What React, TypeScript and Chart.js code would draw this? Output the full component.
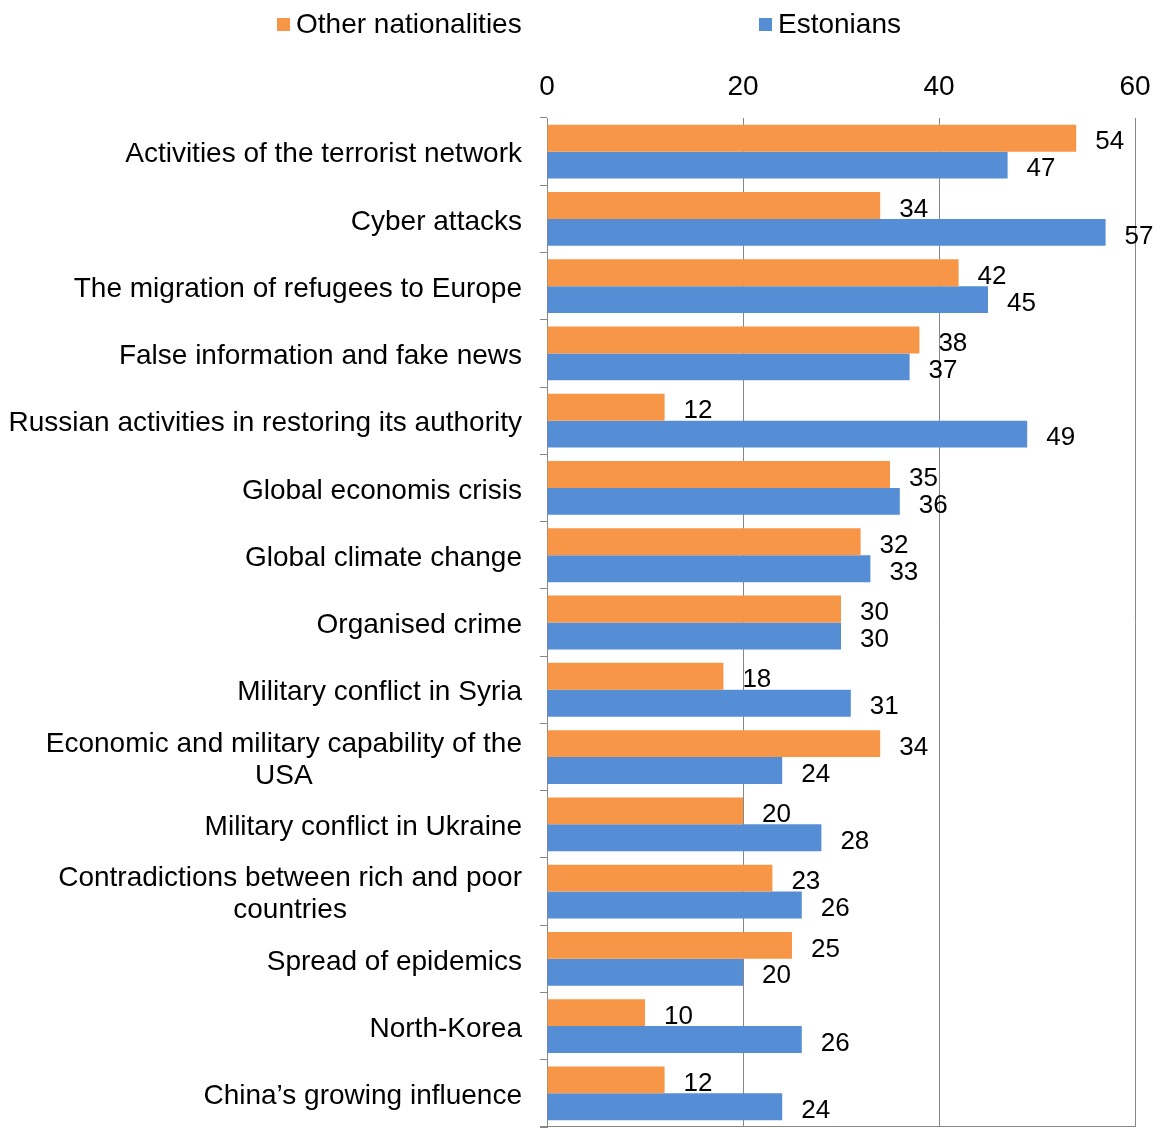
import React, { useEffect, useRef } from 'react';
import { Chart, registerables } from 'chart.js';

Chart.register(...registerables);

const categories: string[][] = [
  ['Activities of the terrorist network'],
  ['Cyber attacks'],
  ['The migration of refugees to Europe'],
  ['False information and fake news'],
  ['Russian activities in restoring its authority'],
  ['Global economis crisis'],
  ['Global climate change'],
  ['Organised crime'],
  ['Military conflict in Syria'],
  ['Economic and military capability of the', 'USA'],
  ['Military conflict in Ukraine'],
  ['Contradictions between rich and poor', 'countries'],
  ['Spread of epidemics'],
  ['North-Korea'],
  ['China\u2019s growing influence'],
];

const otherNationalities = [54, 34, 42, 38, 12, 35, 32, 30, 18, 34, 20, 23, 25, 10, 12];
const estonians = [47, 57, 45, 37, 49, 36, 33, 30, 31, 24, 28, 26, 20, 26, 24];

const seriesNames = ['Other nationalities', 'Estonians'];
const xMin = 0;
const xMax = 60;
const xStep = 20;

const ORANGE = '#F79646';
const BLUE = '#558ED5';
const GRID = '#878787';
const FONT = "'Liberation Sans', Arial, sans-serif";
const FS = 28;
const W = 1161;
const H = 1128;

export default function App() {
  const ref = useRef<HTMLCanvasElement | null>(null);

  useEffect(() => {
    document.body.style.margin = '0';
    const canvas = ref.current;
    if (!canvas) return;

    const categoryLabelPlugin = {
      id: 'categoryLabels',
      afterDraw(chart: any) {
        const ctx = chart.ctx;
        const yScale = chart.scales.y;
        const rightX = chart.chartArea.left - 25;
        const lineH = 32;
        ctx.save();
        ctx.font = `${FS}px ${FONT}`;
        ctx.fillStyle = '#000';
        ctx.textBaseline = 'middle';
        ctx.textAlign = 'center';
        categories.forEach((lines, i) => {
          const cy = yScale.getPixelForValue(i) + 3;
          const widths = lines.map((l) => ctx.measureText(l).width);
          const blockW = Math.max(...widths);
          const cx = rightX - blockW / 2;
          lines.forEach((l, j) => {
            const y = cy + (j - (lines.length - 1) / 2) * lineH;
            ctx.fillText(l, cx, y);
          });
        });
        ctx.restore();
      },
    };

    const bottomLinePlugin = {
      id: 'bottomLine',
      afterDraw(chart: any) {
        const ctx = chart.ctx;
        const { left, right, bottom } = chart.chartArea;
        ctx.save();
        ctx.strokeStyle = GRID;
        ctx.lineWidth = 1;
        ctx.beginPath();
        ctx.moveTo(left - 7, Math.round(bottom) - 0.5);
        ctx.lineTo(right, Math.round(bottom) - 0.5);
        ctx.stroke();
        ctx.restore();
      },
    };

    const dataLabelPlugin = {
      id: 'dataLabels',
      afterDatasetsDraw(chart: any) {
        const ctx = chart.ctx;
        ctx.save();
        ctx.font = `${FS - 2}px ${FONT}`;
        ctx.fillStyle = '#000';
        ctx.textBaseline = 'middle';
        ctx.textAlign = 'left';
        chart.data.datasets.forEach((ds: any, di: number) => {
          const meta = chart.getDatasetMeta(di);
          meta.data.forEach((el: any, i: number) => {
            ctx.fillText(String(ds.data[i]), el.x + 19, el.y + 4);
          });
        });
        ctx.restore();
      },
    };

    const legendPlugin = {
      id: 'customLegend',
      afterDraw(chart: any) {
        const ctx = chart.ctx;
        const items = [
          { text: seriesNames[0], color: ORANGE, x: 277 },
          { text: seriesNames[1], color: BLUE, x: 759 },
        ];
        ctx.save();
        ctx.font = `${FS}px ${FONT}`;
        ctx.textBaseline = 'middle';
        ctx.textAlign = 'left';
        items.forEach((it) => {
          ctx.fillStyle = it.color;
          ctx.fillRect(it.x, 18, 13, 13);
          ctx.fillStyle = '#000';
          ctx.fillText(it.text, it.x + 19, 25);
        });
        ctx.restore();
      },
    };

    const chart = new Chart(canvas, {
      type: 'bar',
      data: {
        labels: categories.map((c) => c.join(' ')),
        datasets: [
          {
            label: seriesNames[0],
            data: otherNationalities,
            backgroundColor: ORANGE,
            categoryPercentage: 0.8,
            barPercentage: 1.0,
          },
          {
            label: seriesNames[1],
            data: estonians,
            backgroundColor: BLUE,
            categoryPercentage: 0.8,
            barPercentage: 1.0,
          },
        ],
      },
      options: {
        indexAxis: 'y',
        responsive: false,
        animation: false,
        devicePixelRatio: 1,
        layout: { padding: { left: 0, right: 26, top: 0, bottom: 1 } },
        plugins: {
          legend: { display: false },
          tooltip: { enabled: false },
        },
        scales: {
          x: {
            position: 'top',
            min: xMin,
            max: xMax,
            ticks: {
              stepSize: xStep,
              color: '#000',
              font: { size: FS, family: FONT },
              padding: 14,
            },
            grid: {
              color: GRID,
              drawTicks: false,
              lineWidth: 1,
            },
            border: { display: false },
            afterFit: (s: any) => {
              s.height = 118;
              s.paddingRight = 0;
              s.paddingLeft = 0;
            },
          },
          y: {
            ticks: {
              display: false,
            },
            grid: {
              drawOnChartArea: false,
              drawTicks: true,
              tickLength: 7,
              color: GRID,
              offset: true,
            },
            border: { display: true, color: GRID },
            afterFit: (s: any) => {
              s.width = 547;
              s.paddingTop = 0;
              s.paddingBottom = 0;
            },
          },
        },
      },
      plugins: [categoryLabelPlugin, bottomLinePlugin, dataLabelPlugin, legendPlugin],
    } as any);

    return () => chart.destroy();
  }, []);

  return (
    <div style={{ width: W, height: H }}>
      <canvas ref={ref} width={W} height={H} style={{ display: 'block' }} />
    </div>
  );
}
